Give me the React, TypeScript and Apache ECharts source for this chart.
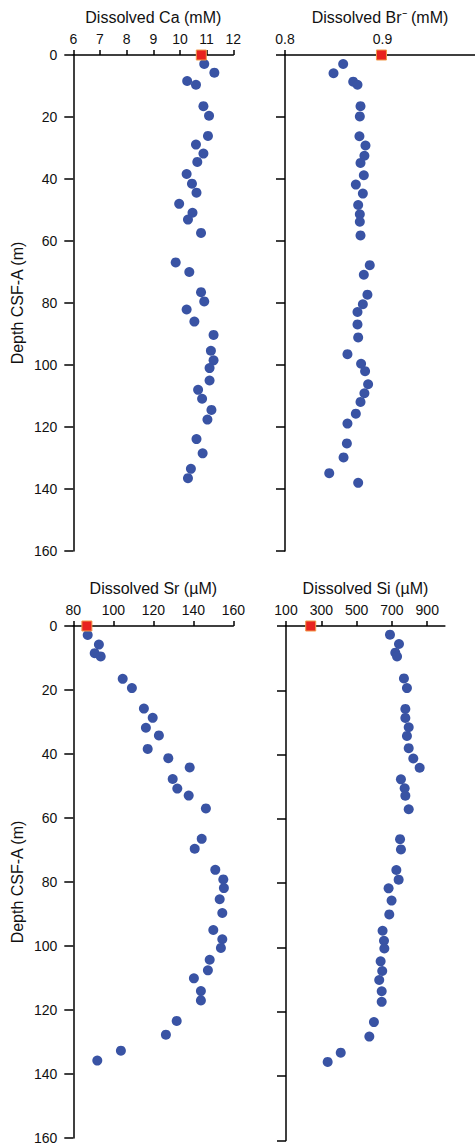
import React, { useEffect, useRef } from "react";
import * as echarts from "echarts";

// Depth (m CSF-A) and concentration for each panel
const caDepth = [2.9, 5.7, 8.4, 9.6, 16.5, 19.6, 26.1, 28.9, 31.8, 34.5, 38.4, 41.5, 44.4, 48.0, 50.9, 53.1, 57.4, 66.9, 70.0, 76.5, 79.5, 82.1, 86.0, 90.3, 95.4, 98.5, 101.0, 105.0, 108.0, 110.9, 114.5, 117.6, 123.9, 128.5, 133.5, 136.5];
const caValues = [10.91, 11.29, 10.27, 10.6, 10.88, 11.09, 11.05, 10.6, 10.88, 10.65, 10.25, 10.45, 10.62, 9.97, 10.47, 10.3, 10.79, 9.84, 10.35, 10.79, 10.91, 10.25, 10.54, 11.26, 11.16, 11.26, 11.11, 11.11, 10.68, 10.83, 11.18, 11.03, 10.62, 10.85, 10.41, 10.3];

const brDepth = [2.9, 5.9, 8.6, 9.6, 16.5, 19.8, 26.2, 29.2, 32.5, 34.8, 38.8, 41.8, 44.7, 48.4, 51.4, 53.8, 58.2, 67.8, 70.9, 77.3, 80.4, 82.9, 86.9, 91.1, 96.5, 99.6, 102.0, 106.2, 109.1, 111.9, 115.7, 118.9, 125.3, 129.8, 134.9, 138.0];
const brValues = [0.8597, 0.8498, 0.870, 0.8744, 0.8775, 0.8768, 0.8764, 0.8826, 0.8815, 0.8775, 0.8809, 0.8727, 0.8799, 0.8751, 0.8768, 0.8768, 0.8775, 0.887, 0.8809, 0.8846, 0.8799, 0.8744, 0.8744, 0.8751, 0.8641, 0.8781, 0.8822, 0.8853, 0.8815, 0.8775, 0.8727, 0.8641, 0.8635, 0.8601, 0.8454, 0.8751];

const srDepth = [2.8, 5.8, 8.5, 9.5, 16.5, 19.4, 25.8, 28.7, 31.8, 34.2, 38.4, 41.3, 44.2, 47.8, 50.8, 53.0, 57.0, 66.5, 69.6, 76.2, 79.2, 81.9, 85.4, 89.7, 95.0, 97.9, 100.6, 104.3, 107.6, 110.1, 114.1, 117.0, 123.4, 127.7, 132.7, 135.8];
const srValues = [87.2, 92.8, 90.7, 93.7, 104.7, 109.3, 115.3, 119.7, 116.3, 122.8, 117.2, 127.5, 138.2, 129.7, 132.0, 137.7, 146.3, 144.2, 140.7, 151.0, 155.0, 155.3, 153.2, 154.5, 150.0, 154.5, 153.8, 148.2, 147.3, 140.3, 143.8, 143.8, 131.7, 126.3, 103.8, 92.0];

const siDepth = [2.7, 5.6, 8.3, 9.5, 16.3, 19.3, 25.8, 28.6, 31.5, 34.2, 38.0, 41.2, 44.1, 47.7, 50.5, 52.8, 57.0, 66.3, 69.5, 75.9, 78.9, 81.6, 85.4, 89.7, 94.8, 97.9, 100.3, 104.3, 107.3, 110.1, 113.6, 116.9, 123.2, 127.7, 132.7, 135.6];
const siValues = [689, 740, 719, 729, 768, 785, 776, 776, 795, 785, 795, 821, 857, 751, 772, 776, 795, 746, 751, 725, 738, 681, 698, 685, 647, 655, 657, 636, 645, 628, 642, 642, 598, 572, 410, 336];

// Seawater reference values (plotted at 0 m)
const seawater = { ca: 10.8, br: 0.899, sr: 86.8, si: 240 };

const titles = ["Dissolved Ca (mM)", "Dissolved Br\u207B (mM)", "Dissolved Sr (\u00B5M)", "Dissolved Si (\u00B5M)"];
const depthName = "Depth CSF-A (m)";
const depthTicks = [0, 20, 40, 60, 80, 100, 120, 140, 160];
const brTicks = [0.8, 0.9];
const siTicks = [100, 300, 500, 700, 900];

const FONT = "'Liberation Sans', Arial, Helvetica, sans-serif";
const BLUE = "#3953a4";
const RED = "#e8231f";

function pairs(v: number[], d: number[]) {
  return v.map((x, i) => [x, d[i]]);
}

export default function App() {
  const ref = useRef<HTMLDivElement>(null);
  useEffect(() => {
    if (!ref.current) return;
    const chart = echarts.init(ref.current, undefined, { renderer: "svg" });
    const line = { show: true, onZero: false, lineStyle: { color: "#000", width: 1.5 } };
    const grids = [
      { left: 73.3, top: 55, width: 160, height: 496 },
      { left: 285, top: 55, width: 190, height: 496 },
      { left: 73.3, top: 626, width: 160, height: 514.4 },
      { left: 286, top: 626, width: 158.9, height: 514.4 },
    ];
    const xCommon = (i: number) => ({
      gridIndex: i,
      type: "value",
      position: "top",
      name: titles[i],
      nameLocation: "middle",
      nameGap: 30,
      nameTextStyle: { fontFamily: FONT, fontSize: 16, color: "#111" },
      axisLine: line,
      axisTick: { show: true, inside: false, length: 5, lineStyle: { color: "#000", width: 1.5 } },
      axisLabel: { fontFamily: FONT, fontSize: 14, color: "#111", margin: 9 },
      splitLine: { show: false },
    });
    const xAxes = [
      { ...xCommon(0), min: 6, max: 12, interval: 1 },
      {
        ...xCommon(1), min: 0.8, max: 0.995,
        axisTick: { ...xCommon(1).axisTick, customValues: brTicks },
        axisLabel: { ...xCommon(1).axisLabel, customValues: brTicks },
      },
      { ...xCommon(2), min: 80, max: 160, interval: 20 },
      {
        ...xCommon(3), min: 100, max: 1000,
        axisTick: { ...xCommon(3).axisTick, customValues: siTicks },
        axisLabel: { ...xCommon(3).axisLabel, customValues: siTicks },
      },
    ];
    const yAxes = [0, 1, 2, 3].map((i) => ({
      gridIndex: i,
      type: "value",
      inverse: true,
      min: 0,
      max: 160,
      interval: 20,
      name: i % 2 === 0 ? depthName : "",
      nameLocation: "middle",
      nameGap: 48,
      nameRotate: 90,
      nameTextStyle: { fontFamily: FONT, fontSize: 16, color: "#111" },
      axisLine: line,
      axisTick: { show: true, inside: false, length: 9, lineStyle: { color: "#000", width: 1.5 } },
      axisLabel: {
        show: i % 2 === 0,
        fontFamily: FONT,
        fontSize: 14,
        color: "#111",
        margin: 16,
        customValues: depthTicks,
      },
      splitLine: { show: false },
    }));
    const data = [
      pairs(caValues, caDepth),
      pairs(brValues, brDepth),
      pairs(srValues, srDepth),
      pairs(siValues, siDepth),
    ];
    const sw = [seawater.ca, seawater.br, seawater.sr, seawater.si];
    const series: any[] = [];
    data.forEach((d, i) => {
      series.push({
        type: "scatter",
        xAxisIndex: i,
        yAxisIndex: i,
        data: d,
        symbol: "circle",
        symbolSize: 10,
        clip: false,
        itemStyle: { color: BLUE, opacity: 1 },
        z: 3,
      });
      series.push({
        type: "scatter",
        xAxisIndex: i,
        yAxisIndex: i,
        data: [[sw[i], 0]],
        symbol: "rect",
        symbolSize: 10,
        clip: false,
        itemStyle: { color: RED, borderColor: "#f29a4a", borderWidth: 1, opacity: 1 },
        z: 4,
      });
    });
    chart.setOption({
      animation: false,
      backgroundColor: "#fff",
      grid: grids,
      xAxis: xAxes,
      yAxis: yAxes,
      series,
    });
    return () => chart.dispose();
  }, []);
  return (
    <div
      ref={ref}
      style={{ position: "absolute", left: 0, top: 0, width: 475, height: 1145 }}
    />
  );
}
